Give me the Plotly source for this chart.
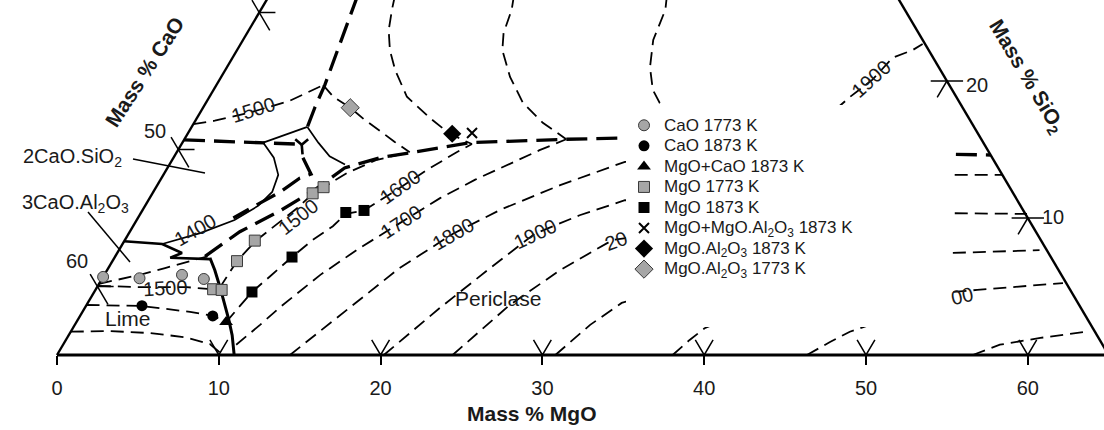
import plotly.graph_objects as go

# Compositions are (mass % MgO, mass % SiO2); CaO = 65 - MgO - SiO2 (Al2O3 fixed)
TOTAL = 65.0

# ---------------- experimental points ----------------
cao1773_mgo = [0.0, 2.3, 4.8, 6.3]
cao1773_sio2 = [5.7, 5.6, 5.85, 5.55]
cao1873_mgo = [3.45, 8.2]
cao1873_sio2 = [3.6, 2.85]
mgocao1873_mgo = [9.25]
mgocao1873_sio2 = [2.4]
mgo1773_mgo = [7.25, 7.8, 7.7, 8.05, 9.9, 10.35]
mgo1773_sio2 = [4.8, 4.75, 6.85, 8.35, 11.8, 12.25]
mgo1873_mgo = [9.75, 10.95, 12.65, 13.7]
mgo1873_sio2 = [4.6, 7.15, 10.4, 10.55]
mgosp1873_mgo = [17.55]
mgosp1873_sio2 = [16.2]
sp1873_mgo = [16.35]
sp1873_sio2 = [16.15]
sp1773_mgo = [9.1]
sp1773_sio2 = [18.05]

# ---------------- phase boundaries ----------------
lime_per_mgo = [5.9, 6.65, 7.6, 8.55, 9.35, 10.1, 10.95]
lime_per_sio2 = [7.1, 6.2, 4.95, 3.65, 2.55, 1.45, 0.0]
c3a_mgo = [0.0, 2.45, 4.0, 3.45, 5.95]
c3a_sio2 = [8.3, 8.1, 7.45, 7.1, 7.0]
arc_mgo = [5.0, 6.2, 7.1, 7.35, 7.0, 6.05, 4.4, 2.45]
arc_sio2 = [15.5, 14.4, 13.15, 11.9, 10.9, 9.85, 8.9, 8.1]
link_mgo = [5.0, 7.15]
link_sio2 = [15.5, 16.65]
c2s_sp_mgo = [7.15, 8.4, 9.6, 10.85]
c2s_sp_sio2 = [16.65, 15.5, 14.5, 13.9]
bnd_top_mgo = [5.45, 5.65, 6.15, 6.7, 6.9, 7.15]
bnd_top_sio2 = [26.3, 25.2, 22.6, 19.7, 18.1, 16.65]
bnd_c2s_mgo = [0.0, 5.0, 7.0]
bnd_c2s_sio2 = [15.7, 15.5, 15.4]
ymark_arm_mgo = [6.85, 7.45, 7.65]
ymark_arm_sio2 = [15.75, 15.35, 15.75]
ymark_stem_mgo = [7.45, 7.85]
ymark_stem_sio2 = [15.35, 14.65]
bnd_y_mgo = [8.0, 9.1, 8.55, 7.85, 6.8, 5.9]
bnd_y_sio2 = [14.4, 13.2, 12.9, 11.9, 10.9, 10.0]
bnd_per_mgo = [5.55, 6.8, 8.5, 9.9, 10.95, 12.75, 14.6, 17.8, 23.6, 27.5, 37.7, 48.0, 50.4]
bnd_per_sio2 = [7.2, 9.0, 10.5, 12.05, 13.65, 14.4, 14.8, 15.5, 15.75, 15.85, 15.2, 14.65, 14.6]

# ---------------- isotherms ----------------
lime_a_mgo = [0.0, 2.4, 4.95, 7.25, 9.05, 9.95]
lime_a_sio2 = [1.7, 1.75, 1.6, 1.3, 0.8, 0.2]
lime_b_mgo = [0.0, 3.43, 6.65, 8.22, 9.24]
lime_b_sio2 = [3.65, 3.58, 3.15, 2.85, 2.41]
lime1500_mgo = [0.0, 2.65, 5.55, 7.25]
lime1500_sio2 = [5.05, 4.95, 4.95, 4.8]
lime_c_mgo = [0.0, 2.2, 3.5, 4.8, 5.7]
lime_c_sio2 = [5.2, 5.85, 6.35, 6.85, 7.2]
c2s1500_mgo = [0.0, 1.2, 3.2, 5.1, 6.6]
c2s1500_sio2 = [16.85, 17.1, 17.75, 18.55, 19.7]
sp1500_mgo = [6.6, 7.65, 9.1, 10.45, 11.8, 13.1, 14.4]
sp1500_sio2 = [19.7, 18.85, 18.05, 17.15, 16.35, 15.55, 14.8]
per1500_mgo = [7.6, 7.7, 8.1, 9.5, 9.9, 10.35, 11.3, 12.65, 14.4]
per1500_sio2 = [4.9, 6.85, 8.3, 10.75, 11.7, 12.25, 13.3, 14.25, 14.8]
per1600_mgo = [9.25, 9.5, 9.75, 10.3, 10.95, 11.6, 12.35, 12.7, 13.7, 15.1, 16.1, 17.3, 17.95]
per1600_sio2 = [2.4, 3.65, 4.6, 5.75, 7.15, 8.4, 9.4, 10.3, 10.55, 12.2, 13.5, 14.8, 15.4]
sp1600_mgo = [7.75, 8.1, 8.65, 9.45, 10.5, 12.2, 14.4, 15.95, 17.2, 17.95]
sp1600_sio2 = [26.3, 25.2, 23.7, 22.25, 20.8, 18.85, 17.3, 16.3, 15.7, 15.4]
sp1700_mgo = [15.1, 15.5, 15.85, 16.4, 17.85, 19.6, 21.55, 23.6]
sp1700_sio2 = [26.3, 25.2, 23.5, 22.25, 20.3, 18.4, 16.95, 15.75]
sp1800_mgo = [24.55, 25.0, 25.35, 26.15, 27.15, 28.05, 29.9]
sp1800_sio2 = [26.3, 25.2, 23.0, 21.0, 19.35, 18.4, 17.15]
sp1900_mgo = [39.15, 39.6, 40.35, 40.8, 41.75, 42.15]
sp1900_sio2 = [17.9, 18.85, 20.1, 21.7, 22.25, 22.7]
per1700_mgo = [10.7, 11.45, 12.05, 13.35, 14.8, 16.45, 17.95, 19.45, 21.15, 22.35, 23.6]
per1700_sio2 = [0.75, 2.2, 3.5, 5.85, 7.8, 9.7, 11.45, 12.8, 14.1, 14.95, 15.75]
per1800_mgo = [14.4, 16.05, 18.0, 20.05, 22.1, 24.9, 28.05, 38.5, 48.75, 51.85]
per1800_sio2 = [0.0, 2.9, 6.35, 8.85, 10.6, 12.4, 14.1, 13.65, 13.15, 13.15]
per1900_mgo = [20.2, 21.95, 23.6, 25.1, 27.2, 29.45, 39.9, 50.15, 54.8]
per1900_sio2 = [0.0, 3.45, 6.35, 8.85, 10.2, 11.3, 10.8, 10.35, 10.3]
per2000_mgo = [24.45, 26.15, 28.0, 30.15, 35.1, 45.0, 51.6, 56.9]
per2000_sio2 = [0.0, 3.65, 6.2, 8.4, 9.25, 8.05, 7.45, 7.65]
per2100_mgo = [30.8, 31.85, 33.0, 37.0, 46.65, 53.0, 54.5, 59.55]
per2100_sio2 = [0.0, 2.2, 3.8, 5.5, 4.75, 4.6, 4.75, 5.25]
per_a_mgo = [38.05, 38.55, 39.05, 41.6]
per_a_sio2 = [0.0, 1.1, 1.95, 3.65]
per_b_mgo = [46.35, 47.3, 48.15, 50.1]
per_b_sio2 = [0.0, 0.95, 1.7, 2.7]
per_c_mgo = [56.6, 57.9, 60.15, 62.8]
per_c_sio2 = [0.0, 0.75, 1.25, 1.7]

# ---------------- axis ticks ----------------
mgo_ticks = [0, 10, 20, 30, 40, 50, 60]
cao_ticks = [40, 50, 60]
sio2_ticks = [10, 20]

FONT = "Liberation Sans, Arial, sans-serif"
W, H, PLOT_H = 1104, 430, 360


def cart(mgo, sio2):
    return [m + s / 2.0 for m, s in zip(mgo, sio2)], list(sio2)


def pp(px, py):
    return px / W, 1 - py / PLOT_H


fig = go.Figure()


def add_line(mgo, sio2, width=1.6, dash="13px,7px"):
    x, y = cart(mgo, sio2)
    fig.add_trace(go.Scatter(x=x, y=y, mode="lines",
                             line=dict(color="black", width=width, dash=dash),
                             showlegend=False, hoverinfo="skip"))


THIN_D = "13px,7px"
THICK_D = "21px,9px"

# triangle edges
add_line([0, 0], [0, 27], 2.4, "solid")
add_line([0, TOTAL], [0, 0], 2.8, "solid")
add_line([TOTAL, TOTAL - 27], [0, 27], 2.4, "solid")

# ternary tick marks
for m0 in mgo_ticks[1:]:
    add_line([m0 - 1.1, m0, m0], [1.1, 0, 1.1], 1.5, "solid")
for c in cao_ticks:
    s0 = TOTAL - c
    add_line([0, 1.0], [s0, s0], 1.5, "solid")
    add_line([-0.9, 1.3], [s0 + 0.9, s0 - 1.3], 1.5, "solid")
for sv in sio2_ticks:
    me = TOTAL - sv
    add_line([me - 1.0, me + 1.0], [sv, sv], 1.5, "solid")
    add_line([me, me], [sv, sv - 1.2], 1.5, "solid")

# isotherms (thin dashed)
for mg, si in [(lime_a_mgo, lime_a_sio2), (lime_b_mgo, lime_b_sio2),
               (lime1500_mgo, lime1500_sio2), (lime_c_mgo, lime_c_sio2),
               (c2s1500_mgo, c2s1500_sio2), (sp1500_mgo, sp1500_sio2),
               (per1500_mgo, per1500_sio2), (per1600_mgo, per1600_sio2),
               (sp1600_mgo, sp1600_sio2), (sp1700_mgo, sp1700_sio2),
               (sp1800_mgo, sp1800_sio2), (sp1900_mgo, sp1900_sio2),
               (per1700_mgo, per1700_sio2), (per1800_mgo, per1800_sio2),
               (per1900_mgo, per1900_sio2), (per2000_mgo, per2000_sio2),
               (per2100_mgo, per2100_sio2), (per_a_mgo, per_a_sio2),
               (per_b_mgo, per_b_sio2), (per_c_mgo, per_c_sio2)]:
    add_line(mg, si, 1.8, THIN_D)

# phase boundaries
for mg, si in [(bnd_top_mgo, bnd_top_sio2), (bnd_c2s_mgo, bnd_c2s_sio2),
               (bnd_y_mgo, bnd_y_sio2), (bnd_per_mgo, bnd_per_sio2)]:
    add_line(mg, si, 3.3, THICK_D)
add_line(ymark_arm_mgo, ymark_arm_sio2, 2.6, "solid")
add_line(ymark_stem_mgo, ymark_stem_sio2, 2.6, "solid")
for mg, si in [(arc_mgo, arc_sio2), (link_mgo, link_sio2), (c2s_sp_mgo, c2s_sp_sio2)]:
    add_line(mg, si, 1.7, "solid")
add_line(lime_per_mgo, lime_per_sio2, 3.0, "solid")
add_line(c3a_mgo, c3a_sio2, 2.6, "solid")

# markers (legend entries)
GRAY = "#a6a6a6"
EDGE = "#3a3a3a"
series = [
    ("CaO 1773 K", cao1773_mgo, cao1773_sio2, dict(symbol="circle", size=11, color=GRAY, line=dict(color=EDGE, width=1))),
    ("CaO 1873 K", cao1873_mgo, cao1873_sio2, dict(symbol="circle", size=11, color="black")),
    ("MgO+CaO 1873 K", mgocao1873_mgo, mgocao1873_sio2, dict(symbol="triangle-up", size=12, color="black")),
    ("MgO 1773 K", mgo1773_mgo, mgo1773_sio2, dict(symbol="square", size=11, color=GRAY, line=dict(color=EDGE, width=1))),
    ("MgO 1873 K", mgo1873_mgo, mgo1873_sio2, dict(symbol="square", size=11, color="black")),
    ("MgO+MgO.Al<sub>2</sub>O<sub>3</sub> 1873 K", mgosp1873_mgo, mgosp1873_sio2,
     dict(symbol="x-thin", size=10, color="black", line=dict(color="black", width=2))),
    ("MgO.Al<sub>2</sub>O<sub>3</sub> 1873 K", sp1873_mgo, sp1873_sio2, dict(symbol="diamond", size=14, color="black")),
    ("MgO.Al<sub>2</sub>O<sub>3</sub> 1773 K", sp1773_mgo, sp1773_sio2,
     dict(symbol="diamond", size=14, color=GRAY, line=dict(color=EDGE, width=1))),
]
for name, mg, si, mk in series:
    x, y = cart(mg, si)
    fig.add_trace(go.Scatter(x=x, y=y, mode="markers", marker=mk,
                             name='<span style="font-size:17px">' + name + "</span>",
                             hoverinfo="skip"))

# ---------------- annotations ----------------
annos = []


def label(text, px, py, size=20, angle=0, bold=False, xanchor="center"):
    x, y = pp(px, py)
    if bold:
        text = "<b>" + text + "</b>"
    annos.append(dict(text=text, x=x, y=y, xref="paper", yref="paper", showarrow=False,
                      textangle=angle, xanchor=xanchor, yanchor="middle",
                      font=dict(family=FONT, size=size, color="#1a1a1a")))


label("Mass % MgO", 532, 413, 21, bold=True)
label("Mass % CaO", 145, 72, 21, -57, bold=True)
label("Mass % SiO<sub>2</sub>", 1026, 76, 21, 59, bold=True)
label("2CaO.SiO<sub>2</sub>", 72, 157, 20)
label("3CaO.Al<sub>2</sub>O<sub>3</sub>", 75, 203, 20)
label("Lime", 128, 318, 21)
label("Periclase", 498, 298, 21)
label("50", 155, 131, 20)
label("60", 77, 261, 20)
label("20", 977, 85, 20)
label("10", 1053, 217, 20)
label("1500", 253, 110, 20, -17)
label("1400", 195, 230, 20, -30)
label("1500", 165, 288, 20, -3)
label("1500", 298, 217, 20, -38)
label("1600", 400, 187, 20, -35)
label("1700", 401, 222, 20, -33)
label("1800", 453, 234, 20, -30)
label("1900", 535, 234, 20, -25)
label("20", 616, 241, 20, -20)
label("1900", 871, 79, 20, -42)
label("00", 962, 296, 20, -12)

shapes = []
bx0, by0 = pp(626, 327)
bx1, by1 = pp(951, 105)
shapes.append(dict(type="rect", xref="paper", yref="paper", x0=bx0, y0=by0, x1=bx1, y1=by1,
                   fillcolor="white", line=dict(width=0), layer="above"))
for (a, b) in [((133, 159), (205, 173)), ((88, 212), (130, 262))]:
    x0, y0 = pp(*a)
    x1, y1 = pp(*b)
    shapes.append(dict(type="line", xref="paper", yref="paper", x0=x0, y0=y0, x1=x1, y1=y1,
                       line=dict(color="black", width=1.5), layer="above"))

lx, ly = pp(624, 110)
fig.update_layout(
    width=W, height=H,
    margin=dict(l=0, r=0, t=0, b=H - PLOT_H, pad=0),
    plot_bgcolor="white", paper_bgcolor="white",
    font=dict(family=FONT, color="#1a1a1a"),
    xaxis=dict(range=[-57 / 16.18, 1047 / 16.18], tickvals=mgo_ticks,
               ticks="outside", ticklen=9, tickwidth=1.5, tickcolor="black",
               showline=False, showgrid=False, zeroline=False,
               tickfont=dict(family=FONT, size=20, color="#1a1a1a"),
               ticklabelstandoff=6, anchor="free", position=5 / PLOT_H),
    yaxis=dict(range=[-5 / 13.7, 355 / 13.7], visible=False, showgrid=False, zeroline=False),
    showlegend=True,
    legend=dict(x=lx, y=ly, xanchor="left", yanchor="top", bgcolor="rgba(0,0,0,0)",
                font=dict(family=FONT, size=13.5, color="#1a1a1a"), borderwidth=0),
    annotations=annos,
    shapes=shapes,
)

fig.write_html("out.html", config={"displayModeBar": False},
               post_script="document.body.style.margin='0';document.body.style.overflow='hidden';")
